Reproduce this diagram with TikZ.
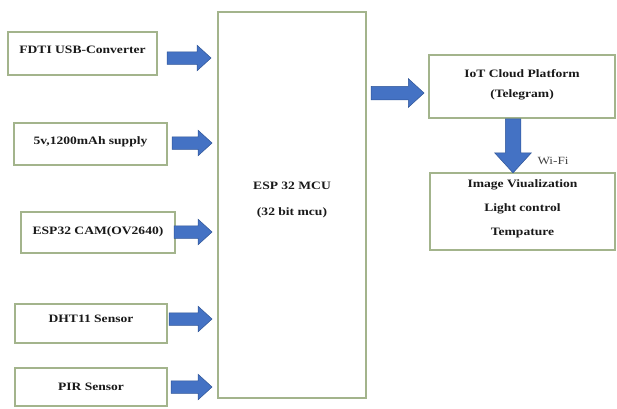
\documentclass[tikz,border=0pt]{standalone}
\usepackage{fontspec}
\setmainfont{Liberation Serif}[FakeStretch=1.2]
\usetikzlibrary{shapes.arrows,calc}
\definecolor{boxline}{HTML}{A3B48C}
\definecolor{arrfill}{HTML}{4472C4}
\definecolor{arrline}{HTML}{2F5597}
\tikzset{
  box/.style={draw=boxline, line width=1.2pt, fill=white, inner sep=0pt},
  txt/.style={font=\fontsize{11.3}{13}\selectfont\bfseries, text=black!90, align=center, inner sep=0pt},
  wifitxt/.style={font=\fontsize{11}{13}\selectfont, text=black!75, inner sep=0pt},
  blockarrow/.style n args={2}{single arrow, fill=arrfill, draw=arrline, line width=0.5pt,
    inner sep=0pt, text height=#1, text depth=0pt, minimum width=0pt,
    single arrow head extend=#2, single arrow tip angle=85},
}
\begin{document}
\begin{tikzpicture}[x=1pt, y=-1pt]
\useasboundingbox (0,0) rectangle (617,408);

% MCU
\node[box, minimum width=148pt, minimum height=386pt] (mcu) at (292,205) {};
\node[txt] (mcut) at (292,200) {ESP 32 MCU\\[13pt](32 bit mcu)};

% left boxes
\node[box, minimum width=149pt, minimum height=43pt] (fdti) at (82.5,53.5) {};
\node[txt] (fdtit) at (82.5,49.5) {FDTI USB-Converter};
\node[box, minimum width=153pt, minimum height=42pt] (supply) at (90.5,144) {};
\node[txt] (supplyt) at (90.5,142) {5v,1200mAh supply};
\node[box, minimum width=154pt, minimum height=41pt] (cam) at (98,232.5) {};
\node[txt] (camt) at (98,232) {ESP32 CAM(OV2640)};
\node[box, minimum width=152pt, minimum height=39pt] (dht) at (91,323.5) {};
\node[txt] (dhtt) at (91,319) {DHT11 Sensor};
\node[box, minimum width=152pt, minimum height=38pt] (pir) at (91,387) {};
\node[txt] (pirt) at (91,387) {PIR Sensor};

% right boxes
\node[box, minimum width=186pt, minimum height=63pt] (iot) at (522,86.5) {};
\node[txt] (iott) at (522,85) {IoT Cloud Platform\\[7pt](Telegram)};
\node[box, minimum width=185pt, minimum height=77pt] (out) at (522.5,211.5) {};
\node[txt] (outt) at (522.5,209) {Image Viualization\\[11pt]Light control\\[11pt]Tempature};
\node[wifitxt] (wifi) at (553,161) {Wi-Fi};

% input arrows
\node[blockarrow={12pt}{6.5pt}, minimum height=44pt, anchor=tip] (a1) at ($(mcu.west |- 0,58)+(-6,0)$) {};
\node[blockarrow={12pt}{6.5pt}, minimum height=40pt, anchor=tip] (a2) at ($(mcu.west |- 0,143)+(-5,0)$) {};
\node[blockarrow={12pt}{6.5pt}, minimum height=38pt, anchor=tip] (a3) at ($(mcu.west |- 0,232)+(-5,0)$) {};
\node[blockarrow={12pt}{6.5pt}, minimum height=43pt, anchor=tip] (a4) at ($(mcu.west |- 0,319)+(-5,0)$) {};
\node[blockarrow={12pt}{6.5pt}, minimum height=41pt, anchor=tip] (a5) at ($(mcu.west |- 0,387)+(-5,0)$) {};

% MCU -> IoT
\node[blockarrow={13pt}{7.5pt}, minimum height=53pt, anchor=tip] (a6) at ($(iot.west |- 0,93)+(-4,0)$) {};
% IoT -> output
\node[blockarrow={15pt}{10.5pt}, minimum height=54pt, anchor=tail, rotate=-90] (a7) at (iot.south -| 513,0) {};
\end{tikzpicture}
\end{document}
